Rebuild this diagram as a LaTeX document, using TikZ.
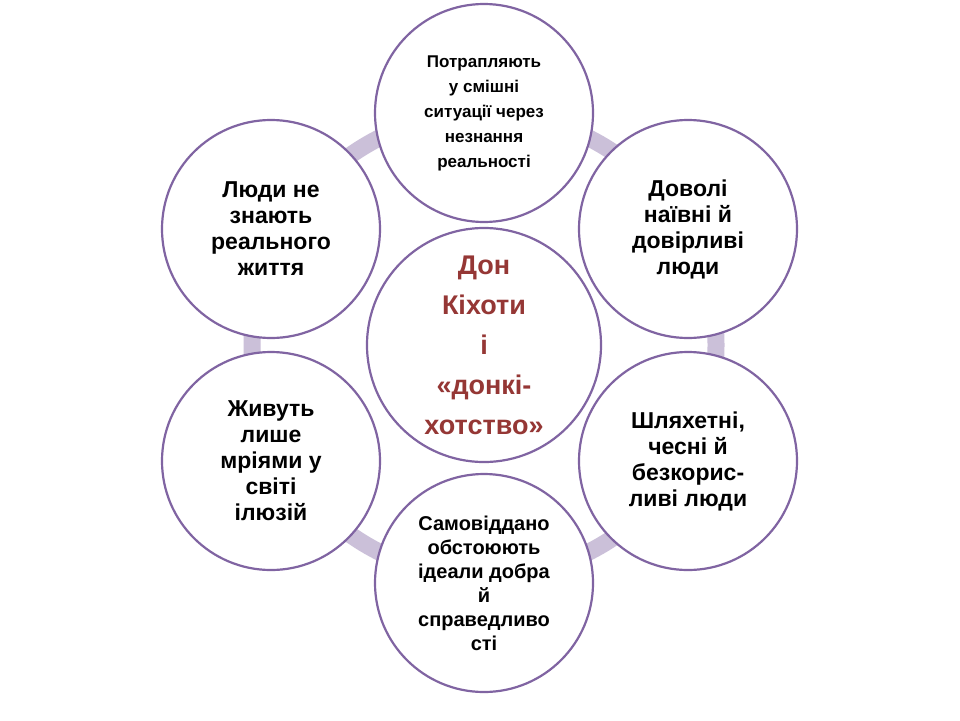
\documentclass[tikz,border=0pt]{standalone}
\usepackage{fontspec}
\setmainfont{Liberation Sans}
\begin{document}
\begin{tikzpicture}[x=1pt,y=-1pt,
  circ/.style={circle,draw=purpc,line width=2.2pt,fill=white,minimum size=218pt,inner sep=0pt,align=center,font=\bfseries},
]
\definecolor{purpc}{HTML}{8064A2}
\definecolor{ringc}{HTML}{CBC0D9}
\definecolor{redc}{HTML}{953735}
\useasboundingbox (0,0) rectangle (960,720);
\fill[white] (0,0) rectangle (960,720);
\draw[ringc,line width=17pt] (484,345) circle (232);
\node[circ,minimum size=234pt,font=\bfseries\fontsize{27}{40}\selectfont,text=redc] (c) at (484,345) {Дон\\Кіхоти\\і\\«донкі-\\хотство»};
\node[circ,font=\bfseries\fontsize{17}{25}\selectfont] (t) at (484,113) {Потрапляють\\у смішні\\ситуації через\\незнання\\реальності};
\node[circ,font=\bfseries\fontsize{23}{26}\selectfont] (rt) at (688,229) {Доволі\\наївні й\\довірливі\\люди};
\node[circ,font=\bfseries\fontsize{23}{26}\selectfont] (rb) at (688,461) {Шляхетні,\\чесні й\\безкорис-\\ливі люди};
\node[circ,font=\bfseries\fontsize{20}{24}\selectfont] (b) at (484,583) {Самовіддано\\обстоюють\\ідеали добра\\й\\справедливо\\сті};
\node[circ,font=\bfseries\fontsize{23}{26}\selectfont] (lb) at (271,461) {Живуть\\лише\\мріями у\\світі\\ілюзій};
\node[circ,font=\bfseries\fontsize{23}{26}\selectfont] (lt) at (271,229) {Люди не\\знають\\реального\\життя};
\end{tikzpicture}
\end{document}
